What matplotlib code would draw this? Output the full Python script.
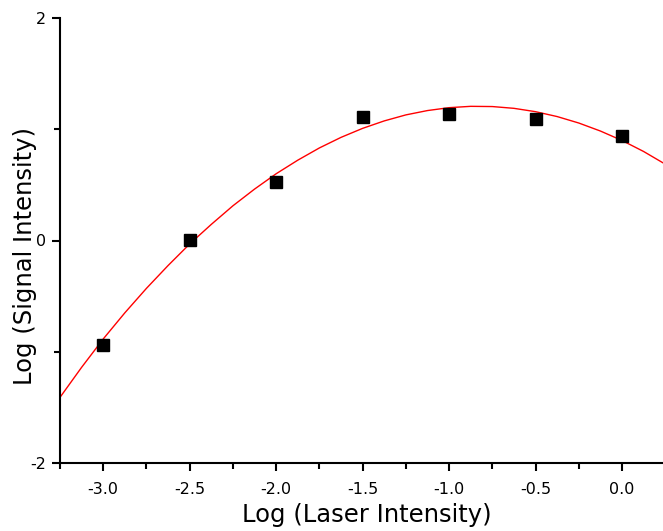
import matplotlib
matplotlib.use('Agg')
import matplotlib.pyplot as plt
from matplotlib.ticker import MultipleLocator

# measured points
laser = [-3.0, -2.5, -2.0, -1.5, -1.0, -0.5, 0.0]
signal = [-0.935, 0.003, 0.53, 1.106, 1.14, 1.094, 0.94]

# fit curve
fit_x = [-3.25, -3.125, -3.0, -2.875, -2.75, -2.625, -2.5, -2.375, -2.25, -2.125,
         -2.0, -1.875, -1.75, -1.625, -1.5, -1.375, -1.25, -1.125, -1.0, -0.875,
         -0.75, -0.625, -0.5, -0.375, -0.25, -0.125, 0.0, 0.125, 0.237]
fit_y = [-1.41, -1.14, -0.885, -0.65, -0.43, -0.225, -0.031, 0.145, 0.312, 0.462,
         0.60, 0.722, 0.832, 0.927, 1.008, 1.075, 1.129, 1.168, 1.194, 1.206,
         1.204, 1.188, 1.158, 1.114, 1.056, 0.984, 0.899, 0.80, 0.698]

plt.rcParams['font.family'] = ['DejaVu Sans']
plt.rcParams['axes.unicode_minus'] = False

fig = plt.figure(figsize=(6.63, 5.31), dpi=100)
ax = fig.add_axes([60 / 663, 68 / 531, 603 / 663, 445 / 531])

ax.plot(fit_x, fit_y, color='red', lw=1.0, clip_on=False)
ax.plot(laser, signal, 's', color='black', ms=8, zorder=3)

ax.set_xlim(-3.25, 0.237)
ax.set_ylim(-2, 2)
ax.xaxis.set_major_locator(MultipleLocator(0.5))
ax.xaxis.set_minor_locator(MultipleLocator(0.25))
ax.yaxis.set_major_locator(MultipleLocator(2))
ax.yaxis.set_minor_locator(MultipleLocator(1))
ax.xaxis.set_major_formatter(plt.FormatStrFormatter('%.1f'))

for side in ['top', 'right']:
    ax.spines[side].set_visible(False)
for side in ['left', 'bottom']:
    ax.spines[side].set_linewidth(1.5)

ax.tick_params(which='major', direction='out', length=6, width=1.5, labelsize=11.5)
ax.tick_params(axis='x', which='major', pad=8)
ax.tick_params(axis='y', which='major', pad=4)
ax.tick_params(which='minor', direction='out', length=4, width=1.5)

ax.set_xlabel('Log (Laser Intensity)', fontsize=17.5)
ax.set_ylabel('Log (Signal Intensity)', fontsize=17.5)
ax.xaxis.set_label_coords(0.508, -0.117)
ax.yaxis.set_label_coords(-0.058, 0.465)
ax.xaxis.label.set_va('center')
ax.yaxis.label.set_va('center')

fig.savefig('out.png', dpi=100)
